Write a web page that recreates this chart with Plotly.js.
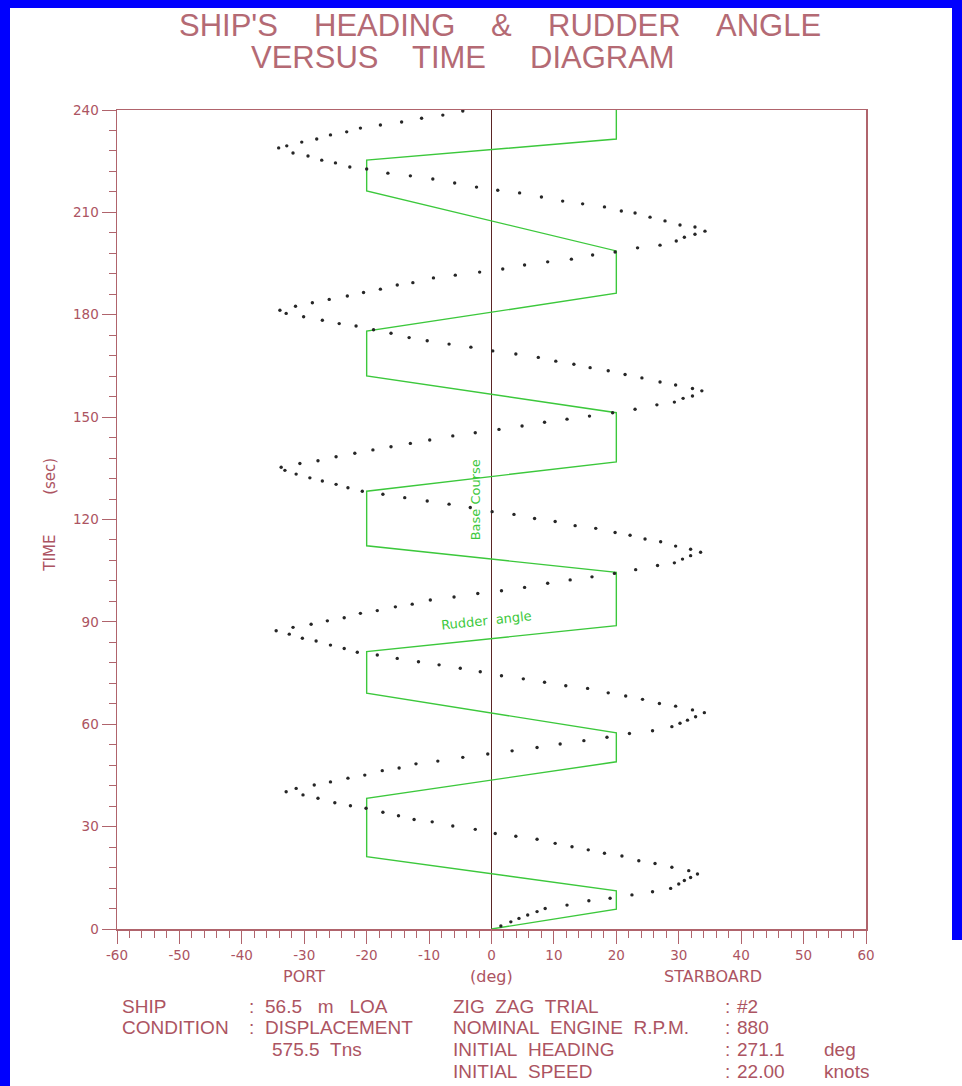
<!DOCTYPE html>
<html>
<head>
<meta charset="utf-8">
<script src="https://cdn.plot.ly/plotly-3.0.1.min.js"></script>
<style>
  html, body { margin: 0; padding: 0; background: #ffffff; }
  #plot { position: absolute; left: 0; top: 0; width: 962px; height: 1086px; }
  .bl { position: absolute; background: #0000fe; z-index: 5; }
</style>
</head>
<body>
<div id="plot"></div>
<div class="bl" style="left:0;top:0;width:10px;height:1086px;"></div>
<div class="bl" style="left:0;top:0;width:962px;height:8px;"></div>
<div class="bl" style="left:952px;top:0;width:10px;height:940px;"></div>
<script>
// ---------- data ----------
const headingTime = [
  0.9,2.1,3.1,4.1,5.1,6.0,7.0,8.3,9.0,10.0,
  10.9,11.9,13.2,14.2,15.1,16.1,17.1,18.1,19.2,20.0,
  21.4,22.2,23.2,24.1,25.1,26.3,27.2,28.0,29.2,30.2,
  31.4,32.1,33.2,34.2,35.4,36.1,37.0,38.3,39.3,40.2,
  41.2,42.2,43.1,44.2,45.1,46.4,47.2,48.4,49.2,50.3,
  51.3,52.2,53.2,54.2,55.2,56.2,57.3,58.1,59.3,60.3,
  61.2,62.2,63.4,64.2,65.3,66.1,67.3,68.3,69.2,70.5,
  71.3,72.3,73.3,74.2,75.4,76.4,77.4,78.3,79.3,80.3,
  81.1,82.2,83.2,84.4,85.2,86.4,87.4,88.4,89.3,90.3,
  91.2,92.5,93.3,94.4,95.2,96.4,97.3,98.3,99.1,100.1,
  101.3,102.3,103.2,104.2,105.3,106.5,107.3,108.4,109.4,110.4,
  111.3,112.2,113.5,114.3,115.4,116.2,117.4,118.2,119.4,120.3,
  121.5,122.3,123.5,124.5,125.4,126.4,127.4,128.3,129.3,130.3,
  131.3,132.2,133.3,134.4,135.3,136.4,137.2,138.4,139.4,140.4,
  141.3,142.3,143.3,144.5,145.4,146.4,147.4,148.5,149.4,150.3,
  151.3,152.3,153.6,154.4,155.5,156.2,157.7,158.4,159.4,160.3,
  161.5,162.5,163.6,164.5,165.5,166.4,167.5,168.5,169.4,170.5,
  171.4,172.4,173.3,174.6,175.6,176.7,177.4,178.4,179.4,180.4,
  181.3,182.5,183.5,184.5,185.5,186.5,187.5,188.7,189.4,190.8,
  191.6,192.5,193.4,194.6,195.5,196.3,197.5,198.4,199.6,200.4,
  201.6,202.7,203.6,204.5,205.7,206.3,207.5,208.6,209.8,210.4,
  211.6,212.5,213.3,214.5,215.7,216.5,217.4,218.6,219.8,220.7,
  221.5,222.7,223.3,224.5,225.3,226.5,227.4,228.9,229.5,230.6,
  231.5,232.7,233.6,234.7,235.6,236.5,237.6,238.5,239.7
];
const headingDeg = [
  1.5,3.1,4.4,5.8,7.3,8.6,12.1,15.6,19.0,22.5,
  25.8,28.7,30.0,30.9,31.9,33.0,31.6,28.9,26.2,23.6,
  20.9,18.1,15.5,12.9,10.2,7.3,3.9,0.6,-2.6,-6.2,
  -9.5,-12.4,-14.9,-17.4,-20.1,-22.6,-25.1,-27.8,-30.2,-32.9,
  -31.3,-28.4,-25.8,-23.0,-20.3,-17.5,-14.8,-12.1,-8.6,-4.6,
  -0.6,3.3,7.3,11.0,14.8,18.5,22.1,25.8,28.9,30.2,
  31.4,32.7,34.1,32.2,29.5,26.9,24.2,21.5,18.7,15.4,
  11.9,8.5,5.1,1.6,-1.8,-5.0,-8.4,-11.7,-15.1,-18.3,
  -21.5,-23.6,-25.8,-28.1,-30.3,-32.4,-34.5,-31.8,-28.9,-26.3,
  -23.6,-21.0,-18.3,-15.4,-12.7,-9.8,-6.0,-2.2,1.6,5.3,
  9.0,12.6,16.1,19.7,23.1,26.6,29.3,30.6,31.9,33.5,
  31.9,29.5,27.1,24.6,22.2,19.8,16.7,13.4,10.2,6.9,
  3.6,0.1,-3.4,-6.8,-10.3,-13.9,-17.4,-20.7,-23.0,-24.9,
  -27.1,-29.1,-31.3,-33.1,-33.7,-30.7,-27.8,-24.9,-21.9,-19.0,
  -16.1,-13.0,-9.9,-6.2,-2.6,1.2,4.9,8.5,12.1,15.7,
  19.4,23.0,26.5,29.3,30.7,32.2,33.7,32.2,29.5,27.0,
  24.1,21.4,18.7,15.8,13.2,10.3,7.5,3.9,0.2,-3.3,
  -6.8,-10.3,-13.2,-16.1,-18.9,-21.7,-24.4,-27.1,-30.1,-32.9,
  -33.9,-31.4,-28.7,-26.0,-23.1,-20.5,-17.8,-15.1,-12.6,-9.3,
  -5.8,-1.9,1.8,5.3,9.0,12.8,16.2,19.8,23.4,27.0,
  29.6,30.9,32.6,34.2,32.6,30.2,27.8,25.4,23.0,20.8,
  18.1,14.6,11.4,8.0,4.5,1.0,-2.4,-5.9,-9.4,-13.0,
  -16.6,-20.0,-22.7,-25.0,-27.2,-29.4,-31.8,-34.1,-32.8,-30.4,
  -28.0,-25.8,-23.2,-21.0,-17.8,-14.4,-11.2,-7.8,-4.6
];
const rudderTime = [0, 5.8, 11.2, 21.2, 38.3, 49.0, 57.5, 69.1, 81.3, 88.9, 104.5, 112.3,
  128.3, 136.9, 151.3, 162.1, 175.2, 186.3, 198.7, 216.3, 225.3, 231.5, 240];
const rudderDeg = [0, 20, 20, -20, -20, 20, 20, -20, -20, 20, 20, -20,
  -20, 20, 20, -20, -20, 20, 20, -20, -20, 20, 20];

const xTickVals = [-60,-50,-40,-30,-20,-10,0,10,20,30,40,50,60];
const xTickText = ["-60","-50","-40","-30","-20","-10","0","10","20","30","40","50","60"];
const yTickVals = [0,30,60,90,120,150,180,210,240];
const yTickText = ["0","30","60","90","120","150","180","210","240"];

const titleLine1 = ["SHIP'S", "HEADING", "&", "RUDDER", "ANGLE"];
const titleLine2 = ["VERSUS", "TIME", "DIAGRAM"];
const sideLabels = ["PORT", "(deg)", "STARBOARD"];
const infoLeftLabels = ["SHIP", "CONDITION"];
const infoLeftValues = ["56.5\u00a0\u00a0\u00a0m\u00a0\u00a0\u00a0LOA", "DISPLACEMENT", "575.5\u00a0\u00a0Tns"];
const infoRightLabels = ["ZIG\u00a0\u00a0ZAG\u00a0\u00a0TRIAL", "NOMINAL\u00a0\u00a0ENGINE\u00a0\u00a0R.P.M.",
  "INITIAL\u00a0\u00a0HEADING", "INITIAL\u00a0\u00a0SPEED"];
const infoRightValues = ["#2", "880", "271.1", "22.00"];
const infoRightUnits = ["", "", "deg", "knots"];

// ---------- style ----------
const FRAME = '#b0646c';
const TXT = '#ac5462';
const TITLE = '#b46a74';
const GREEN = '#3cc83c';
const SANS = 'Liberation Sans, Arial, sans-serif';
const WIDE = 'DejaVu Sans, Verdana, sans-serif';

const L = 117, T = 110, PW = 749, PH = 819; // plot area in px
function ann(text, px, py, opts) {
  return Object.assign({
    text: text, xref: 'paper', yref: 'paper', x: 0, y: 1,
    xshift: px - L, yshift: T - py, xanchor: 'center', yanchor: 'middle',
    showarrow: false, font: {family: SANS, size: 19, color: TXT}
  }, opts || {});
}

const annotations = [];
// title
const t1x = [228, 384, 501, 614, 768];
titleLine1.forEach((w, i) => annotations.push(ann(w, t1x[i], 25, {font: {family: SANS, size: 31, color: TITLE}})));
const t2x = [314, 449, 602];
titleLine2.forEach((w, i) => annotations.push(ann(w, t2x[i], 57, {font: {family: SANS, size: 31, color: TITLE}})));
// x side labels
const sideX = [-30, 0, 35.5];
sideLabels.forEach((w, i) => annotations.push({
  text: w, xref: 'x', yref: 'paper', x: sideX[i], y: 0, yshift: -47,
  xanchor: 'center', yanchor: 'middle', showarrow: false,
  font: {family: WIDE, size: 16, color: TXT}
}));
// y title
annotations.push({text: 'TIME', xref: 'paper', yref: 'y', x: 0, xshift: -67, y: 110,
  textangle: -90, showarrow: false, xanchor: 'center', yanchor: 'middle',
  font: {family: WIDE, size: 15, color: TXT}});
annotations.push({text: '(sec)', xref: 'paper', yref: 'y', x: 0, xshift: -67, y: 132.5,
  textangle: -90, showarrow: false, xanchor: 'center', yanchor: 'middle',
  font: {family: WIDE, size: 15, color: TXT}});
// green labels
annotations.push({text: 'Base Course', xref: 'x', yref: 'y', x: -2.6, y: 125.7, textangle: -90,
  showarrow: false, font: {family: WIDE, size: 13, color: GREEN}});
annotations.push({text: 'Rudder\u00a0\u00a0angle', xref: 'x', yref: 'y', x: -0.8, y: 90.3, textangle: -6,
  showarrow: false, font: {family: WIDE, size: 13, color: GREEN}});
// info block
const rowY = [1006, 1027, 1049, 1071];
const left = {xanchor: 'left'};
infoLeftLabels.forEach((w, i) => {
  annotations.push(ann(w, 120, rowY[i], left));
  annotations.push(ann(':', 247, rowY[i], left));
});
infoLeftValues.forEach((w, i) => annotations.push(ann(w, i === 2 ? 270 : 263, rowY[i], left)));
infoRightLabels.forEach((w, i) => {
  annotations.push(ann(w, 451, rowY[i], left));
  annotations.push(ann(':', 723, rowY[i], left));
  annotations.push(ann(infoRightValues[i], 735, rowY[i], left));
  if (infoRightUnits[i]) annotations.push(ann(infoRightUnits[i], 822, rowY[i], left));
});

const traces = [
  {x: rudderDeg, y: rudderTime, type: 'scatter', mode: 'lines',
   line: {color: GREEN, width: 1.4}, hoverinfo: 'skip'},
  {x: headingDeg, y: headingTime, type: 'scatter', mode: 'markers',
   marker: {color: '#262626', size: 3.4, symbol: 'circle'}, hoverinfo: 'skip'}
];

const layout = {
  width: 962, height: 1086,
  margin: {l: L, r: 962 - L - PW, t: T, b: 1086 - T - PH, pad: 0},
  paper_bgcolor: '#ffffff', plot_bgcolor: '#ffffff',
  showlegend: false,
  xaxis: {
    range: [-60, 60], tickmode: 'array', tickvals: xTickVals, ticktext: xTickText,
    ticks: 'outside', ticklen: 13, tickwidth: 1, tickcolor: FRAME,
    showline: true, linecolor: FRAME, linewidth: 1.5, mirror: true,
    showgrid: false, zeroline: true, zerolinecolor: '#5a2424', zerolinewidth: 1.2,
    tickfont: {family: WIDE, size: 13.5, color: TXT},
    minor: {dtick: 2, tick0: -60, ticks: 'outside', ticklen: 7, tickwidth: 1, tickcolor: FRAME, showgrid: false},
    fixedrange: true
  },
  yaxis: {
    range: [0, 240], tickmode: 'array', tickvals: yTickVals, ticktext: yTickText,
    ticks: 'outside', ticklen: 14, tickwidth: 1, tickcolor: FRAME,
    showline: true, linecolor: FRAME, linewidth: 1.5, mirror: true,
    showgrid: false, zeroline: false,
    tickfont: {family: WIDE, size: 13.5, color: TXT},
    minor: {dtick: 6, tick0: 0, ticks: 'outside', ticklen: 7, tickwidth: 1, tickcolor: FRAME, showgrid: false},
    fixedrange: true
  },
  annotations: annotations
};

Plotly.newPlot('plot', traces, layout, {staticPlot: true, displayModeBar: false});
</script>
</body>
</html>
